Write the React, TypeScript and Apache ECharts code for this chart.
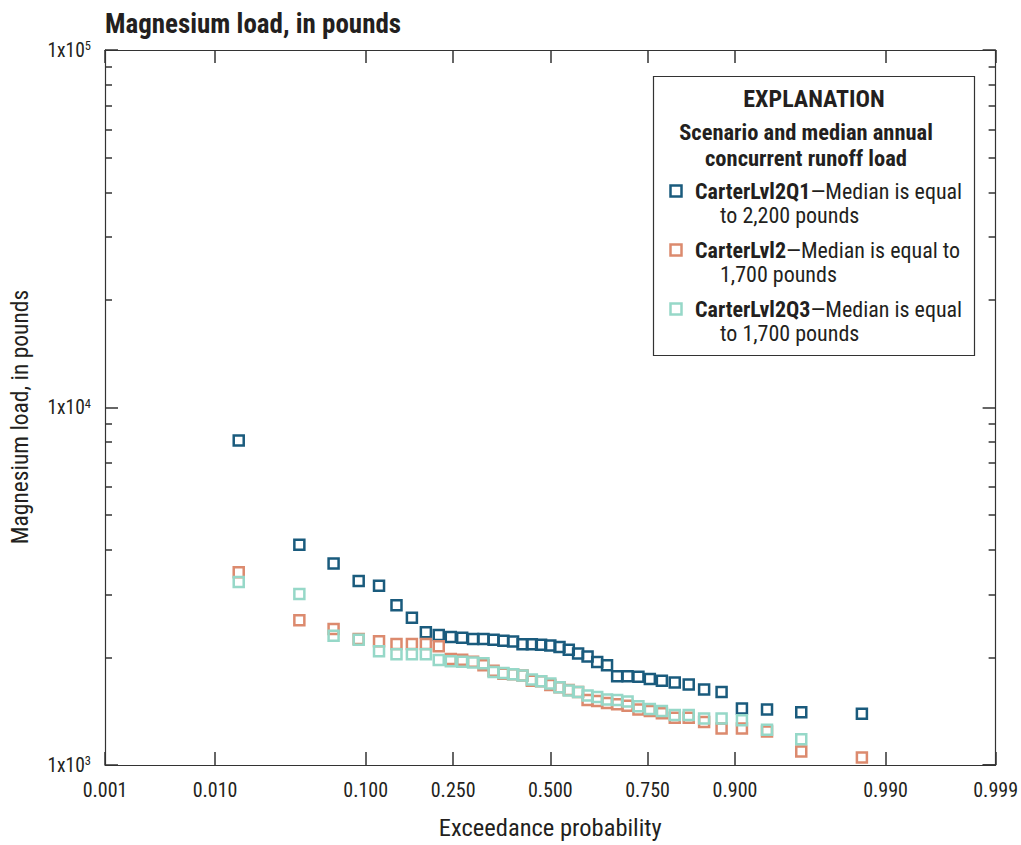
import React, { useEffect, useRef } from "react";
import * as echarts from "echarts";

// ---------------- data ----------------
const exceedanceProbability = [
  0.0153, 0.0408, 0.0663, 0.0918, 0.1173, 0.1429, 0.1684, 0.1939, 0.2194, 0.2449,
  0.2704, 0.2959, 0.3214, 0.3469, 0.3724, 0.398, 0.4235, 0.449, 0.4745, 0.5,
  0.5255, 0.551, 0.5765, 0.602, 0.6276, 0.6531, 0.6786, 0.7041, 0.7296, 0.7551,
  0.7806, 0.8061, 0.8316, 0.8571, 0.8827, 0.9082, 0.9337, 0.9592, 0.9847,
];

const loadCarterLvl2Q1 = [
  8080, 4130, 3660, 3270, 3170, 2800, 2580, 2350, 2310, 2280,
  2270, 2250, 2250, 2240, 2225, 2215, 2175, 2175, 2170, 2160,
  2140, 2100, 2050, 2010, 1940, 1900, 1770, 1770, 1765, 1740,
  1720, 1700, 1680, 1625, 1600, 1440, 1430, 1405, 1390,
];

const loadCarterLvl2 = [
  3460, 2540, 2400, 2250, 2220, 2180, 2180, 2180, 2150, 1980,
  1970, 1945, 1900, 1835, 1800, 1795, 1780, 1720, 1715, 1675,
  1650, 1620, 1600, 1520, 1510, 1490, 1480, 1465, 1430, 1415,
  1395, 1355, 1355, 1320, 1265, 1265, 1240, 1090, 1050,
];

const loadCarterLvl2Q3: (number | null)[] = [
  3250, 3010, 2300, 2240, 2080, 2040, 2040, 2040, 1965, 1950,
  1945, 1935, 1925, 1820, 1810, 1795, 1780, 1735, 1715, 1690,
  1650, 1615, 1600, 1565, 1550, 1525, 1520, 1505, 1460, 1435,
  1415, 1380, 1380, 1350, 1350, 1335, 1255, 1180, null,
];

const xTickProbabilities = [0.001, 0.01, 0.1, 0.25, 0.5, 0.75, 0.9, 0.99, 0.999];
const xTickLabels = ["0.001", "0.010", "0.100", "0.250", "0.500", "0.750", "0.900", "0.990", "0.999"];
const yMinorTicks = [2000, 3000, 4000, 5000, 6000, 7000, 8000, 9000, 20000, 30000, 40000, 50000, 60000, 70000, 80000, 90000];

const seriesNames = ["CarterLvl2Q1", "CarterLvl2", "CarterLvl2Q3"];
const seriesColors = ["#1a5b7d", "#dc8a6e", "#96d8c8"];
const legendRest = ["\u2014Median is equal", "\u2014Median is equal to", "\u2014Median is equal"];
const legendSecond = ["to 2,200 pounds", "1,700 pounds", "to 1,700 pounds"];

// ---------------- helpers ----------------
// inverse standard normal CDF (probability-scale transform)
function probit(p: number): number {
  const a = [-3.969683028665376e1, 2.209460984245205e2, -2.759285104469687e2, 1.38357751867269e2, -3.066479806614716e1, 2.506628277459239];
  const b = [-5.447609879822406e1, 1.615858368580409e2, -1.556989798598866e2, 6.680131188771972e1, -1.328068155288572e1];
  const c = [-7.784894002430293e-3, -3.223964580411365e-1, -2.400758277161838, -2.549732539343734, 4.374664141464968, 2.938163982698783];
  const d = [7.784695709041462e-3, 3.224671290700398e-1, 2.445134137142996, 3.754408661907416];
  const plow = 0.02425;
  const phigh = 1 - plow;
  if (p < plow) {
    const q = Math.sqrt(-2 * Math.log(p));
    return (((((c[0] * q + c[1]) * q + c[2]) * q + c[3]) * q + c[4]) * q + c[5]) / ((((d[0] * q + d[1]) * q + d[2]) * q + d[3]) * q + 1);
  }
  if (p <= phigh) {
    const q = p - 0.5;
    const r = q * q;
    return ((((((a[0] * r + a[1]) * r + a[2]) * r + a[3]) * r + a[4]) * r + a[5]) * q) / (((((b[0] * r + b[1]) * r + b[2]) * r + b[3]) * r + b[4]) * r + 1);
  }
  const q = Math.sqrt(-2 * Math.log(1 - p));
  return -(((((c[0] * q + c[1]) * q + c[2]) * q + c[3]) * q + c[4]) * q + c[5]) / ((((d[0] * q + d[1]) * q + d[2]) * q + d[3]) * q + 1);
}

const FONT = "'Liberation Sans Narrow', 'Roboto Condensed', 'Arial Narrow', 'Liberation Sans', sans-serif";
const AXIS_COLOR = "#333333";
const TEXT_COLOR = "#231f20";

const X_MIN = probit(xTickProbabilities[0]);
const X_MAX = probit(xTickProbabilities[xTickProbabilities.length - 1]);
const xTickZ = xTickProbabilities.map(probit);

function xLabel(v: number): string {
  let best = 0;
  for (let i = 1; i < xTickZ.length; i++) {
    if (Math.abs(xTickZ[i] - v) < Math.abs(xTickZ[best] - v)) best = i;
  }
  return xTickLabels[best];
}

export default function App() {
  const ref = useRef<HTMLDivElement>(null);

  useEffect(() => {
    if (!ref.current) return;
    const chart = echarts.init(ref.current, undefined, { renderer: "svg" });

    const loads = [loadCarterLvl2Q1, loadCarterLvl2, loadCarterLvl2Q3];
    const series = loads.map((vals, si) => ({
      name: seriesNames[si],
      type: "scatter",
      xAxisIndex: 0,
      yAxisIndex: 0,
      symbol: "rect",
      symbolSize: 10,
      z: 2 + si,
      itemStyle: { color: "rgba(0,0,0,0)", borderColor: seriesColors[si], borderWidth: 2.5, opacity: 1 },
      emphasis: { disabled: true },
      data: vals
        .map((v, i) => (v == null ? null : [probit(exceedanceProbability[i]), v]))
        .filter((d) => d !== null),
    }));

    const xCommon = {
      type: "value",
      min: X_MIN,
      max: X_MAX,
      axisLine: { show: true, onZero: false, lineStyle: { color: AXIS_COLOR, width: 1.2 } },
      axisTick: { show: true, inside: true, length: 13, customValues: xTickZ, lineStyle: { color: AXIS_COLOR, width: 1.5 } },
      splitLine: { show: false },
    };

    const yMinorLog = yMinorTicks.map((v) => Math.log10(v));

    const legendGraphics: any[] = [
      {
        type: "text",
        x: 20,
        y: 417,
        rotation: Math.PI / 2,
        style: { text: "Magnesium load, in pounds", fontFamily: FONT, fontSize: 23.5, fill: TEXT_COLOR, align: "center", verticalAlign: "middle" },
      },
      {
        type: "rect",
        shape: { x: 653.5, y: 76.5, width: 321, height: 279 },
        style: { fill: "#ffffff", stroke: AXIS_COLOR, lineWidth: 1.2 },
        z: 10,
      },
      {
        type: "text",
        x: 814,
        y: 99,
        z: 11,
        style: { text: "EXPLANATION", fontFamily: FONT, fontWeight: "bold", fontSize: 24, fill: TEXT_COLOR, align: "center", verticalAlign: "middle" },
      },
      {
        type: "text",
        x: 806,
        y: 132,
        z: 11,
        style: { text: "Scenario and median annual", fontFamily: FONT, fontWeight: "bold", fontSize: 22.5, fill: TEXT_COLOR, align: "center", verticalAlign: "middle" },
      },
      {
        type: "text",
        x: 806,
        y: 158,
        z: 11,
        style: { text: "concurrent runoff load", fontFamily: FONT, fontWeight: "bold", fontSize: 22.5, fill: TEXT_COLOR, align: "center", verticalAlign: "middle" },
      },
    ];
    const itemY = [191, 250, 309];
    seriesNames.forEach((name, i) => {
      legendGraphics.push({
        type: "rect",
        shape: { x: 670.5, y: itemY[i] - 5.5, width: 11, height: 11 },
        style: { fill: "rgba(0,0,0,0)", stroke: seriesColors[i], lineWidth: 2.5 },
        z: 11,
      });
      legendGraphics.push({
        type: "text",
        x: 695,
        y: itemY[i],
        z: 11,
        style: {
          text: `{b|${name}}{r|${legendRest[i]}}`,
          verticalAlign: "middle",
          align: "left",
          rich: {
            b: { fontFamily: FONT, fontWeight: "bold", fontSize: 22, fill: TEXT_COLOR },
            r: { fontFamily: FONT, fontSize: 22, fill: TEXT_COLOR },
          },
        },
      });
      legendGraphics.push({
        type: "text",
        x: 720,
        y: itemY[i] + 24,
        z: 11,
        style: { text: legendSecond[i], fontFamily: FONT, fontSize: 22, fill: TEXT_COLOR, align: "left", verticalAlign: "middle" },
      });
    });

    const option: any = {
      animation: false,
      backgroundColor: "#ffffff",
      title: {
        text: "Magnesium load, in pounds",
        left: 105,
        top: 10,
        padding: 0,
        textStyle: { fontFamily: FONT, fontWeight: "bold", fontSize: 27, color: TEXT_COLOR },
      },
      grid: { left: 105, top: 50, right: 19, bottom: 75, containLabel: false },
      xAxis: [
        {
          ...xCommon,
          position: "bottom",
          name: "Exceedance probability",
          nameLocation: "middle",
          nameGap: 50,
          nameTextStyle: { fontFamily: FONT, fontSize: 24.5, color: TEXT_COLOR },
          axisLabel: {
            show: true,
            customValues: xTickZ,
            formatter: (v: number) => xLabel(v),
            margin: 15,
            fontFamily: FONT,
            fontSize: 20,
            color: TEXT_COLOR,
            showMinLabel: true,
            showMaxLabel: true,
          },
        },
        {
          ...xCommon,
          position: "top",
          axisLabel: { show: false },
        },
      ],
      yAxis: [
        {
          type: "log",
          logBase: 10,
          min: 1000,
          max: 100000,
          position: "left",
          axisLine: { show: true, onZero: false, lineStyle: { color: AXIS_COLOR, width: 1.2 } },
          axisTick: { show: true, inside: true, length: 13, lineStyle: { color: AXIS_COLOR, width: 1.5 } },
          splitLine: { show: false },
          axisLabel: {
            margin: 14,
            formatter: (v: number) => `{b|1x10}{s|${Math.round(Math.log10(v))}}`,
            rich: {
              b: { fontFamily: FONT, fontSize: 19.5, color: TEXT_COLOR, lineHeight: 22 },
              s: { fontFamily: FONT, fontSize: 12.5, color: TEXT_COLOR, lineHeight: 12, verticalAlign: "top" },
            },
          },
        },
        {
          type: "value",
          min: 3,
          max: 5,
          position: "left",
          axisLine: { show: false, onZero: false },
          axisTick: { show: true, inside: true, length: 7, customValues: yMinorLog, lineStyle: { color: AXIS_COLOR, width: 1.5 } },
          axisLabel: { show: false },
          splitLine: { show: false },
        },
        {
          type: "log",
          logBase: 10,
          min: 1000,
          max: 100000,
          position: "right",
          axisLine: { show: true, onZero: false, lineStyle: { color: AXIS_COLOR, width: 1.2 } },
          axisTick: { show: true, inside: true, length: 13, lineStyle: { color: AXIS_COLOR, width: 1.5 } },
          axisLabel: { show: false },
          splitLine: { show: false },
        },
        {
          type: "value",
          min: 3,
          max: 5,
          position: "right",
          axisLine: { show: false, onZero: false },
          axisTick: { show: true, inside: true, length: 7, customValues: yMinorLog, lineStyle: { color: AXIS_COLOR, width: 1.5 } },
          axisLabel: { show: false },
          splitLine: { show: false },
        },
      ],
      series,
      graphic: legendGraphics,
    };

    chart.setOption(option);
    return () => chart.dispose();
  }, []);

  return (
    <div
      ref={ref}
      style={{ position: "absolute", left: 0, top: 0, width: 1021, height: 845, background: "#ffffff" }}
    />
  );
}
